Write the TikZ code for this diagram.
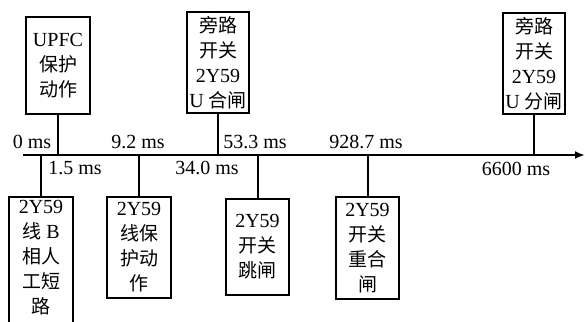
\documentclass[tikz,border=0pt]{standalone}
\usepackage{fontspec}
\setmainfont{Liberation Serif}
\newfontfamily\cjk[Scale=0.95]{Noto Sans CJK SC}
\newcommand{\zh}[1]{{\cjk #1}}
\usetikzlibrary{arrows.meta}
\begin{document}
\begin{tikzpicture}[x=1pt,y=-1pt,
  font=\fontsize{20}{25}\selectfont,
  box/.style={draw, line width=2pt, inner sep=0pt, align=center},
  lbl/.style={inner sep=0pt},
  conn/.style={line width=2pt}]
\useasboundingbox (0,0) rectangle (585,321);
\clip (0,0) rectangle (585,321);
% axis
\coordinate (ax0) at (23,155);
\coordinate (ax1) at (585,155);
\draw[conn,-{Latex[length=10pt,width=8pt]}] (ax0) -- (ax1);
% top boxes
\node[box, minimum width=64, minimum height=97] (b1) at (58,65.5) {UPFC\\\zh{保护}\\\zh{动作}};
\node[box, minimum width=62, minimum height=101] (b2) at (218,62.5) {\zh{旁路}\\\zh{开关}\\2Y59\\U \zh{合闸}};
\node[box, minimum width=62, minimum height=101] (b3) at (534,63.5) {\zh{旁路}\\\zh{开关}\\2Y59\\U \zh{分闸}};
% bottom boxes
\node[box, minimum width=64, minimum height=147] (b4) at (41,270.5) {2Y59\\\zh{线} B\\\zh{相人}\\\zh{工短}\\\zh{路}\\\phantom{\zh{路}}};
\node[box, minimum width=64, minimum height=101] (b5) at (139,247.5) {2Y59\\\zh{线保}\\\zh{护动}\\\zh{作}};
\node[box, minimum width=63, minimum height=96] (b6) at (257.5,247) {2Y59\\\zh{开关}\\\zh{跳闸}};
\node[box, minimum width=63, minimum height=102] (b7) at (367.5,248) {2Y59\\\zh{开关}\\\zh{重合}\\\zh{闸}};
% stems
\draw[conn] (b1.south) -- (b1.south |- ax0);
\draw[conn] (b2.south) -- (b2.south |- ax0);
\draw[conn] (b3.south) -- (b3.south |- ax0);
\draw[conn] (b4.north) -- (b4.north |- ax0);
\draw[conn] (b5.north) -- (b5.north |- ax0);
\draw[conn] (b6.north) -- (b6.north |- ax0);
\draw[conn] (b7.north) -- (b7.north |- ax0);
% labels
\node[lbl] (t0) at (32,142) {0 ms};
\node[lbl] (t1) at (75,168) {1.5 ms};
\node[lbl] (t2) at (138,142) {9.2 ms};
\node[lbl] (t3) at (207,168) {34.0 ms};
\node[lbl] (t4) at (255,142) {53.3 ms};
\node[lbl] (t5) at (366,142) {928.7 ms};
\node[lbl] (t6) at (516,169) {6600 ms};
\end{tikzpicture}
\end{document}
